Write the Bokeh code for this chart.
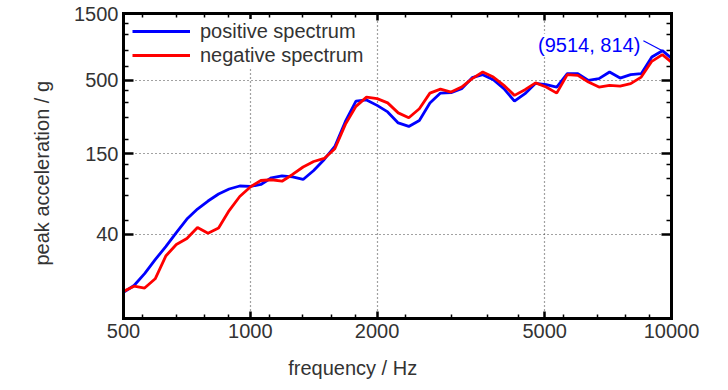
from bokeh.plotting import figure
from bokeh.models import (LogAxis, FixedTicker, PrintfTickFormatter, Legend,
                          LegendItem, Label, Range1d, Title)
from bokeh.embed import file_html
from bokeh.resources import INLINE

# 1/12-octave frequencies (Hz)
freq = [500.0, 529.7, 561.2, 594.6, 630.0, 667.4, 707.1, 749.2, 793.7, 840.9,
        890.9, 943.9, 1000.0, 1059.5, 1122.5, 1189.2, 1259.9, 1334.8, 1414.2,
        1498.3, 1587.4, 1681.8, 1781.8, 1887.7, 2000.0, 2118.9, 2244.9, 2378.4,
        2519.8, 2669.6, 2828.4, 2996.6, 3174.8, 3363.6, 3563.6, 3775.5, 4000.0,
        4237.9, 4489.8, 4756.8, 5039.7, 5339.3, 5656.9, 5993.2, 6349.6, 6727.2,
        7127.2, 7551.0, 8000.0, 8475.7, 8979.7, 9513.7, 10079.4]

positive = [15.4, 17.2, 20.9, 26.3, 32.6, 41.0, 51.2, 60.4, 68.9, 77.3,
            83.9, 88.2, 87.5, 90.4, 100.9, 104.3, 102.3, 98.2, 113.8,
            136.4, 168.8, 254.7, 355.6, 362.7, 331.6, 297.8, 248.5, 234.6,
            259.0, 344.2, 405.7, 408.3, 436.2, 522.7, 549.1, 505.8, 436.2,
            355.6, 401.8, 476.0, 465.9, 447.9, 558.3, 558.3, 500.0, 514.1,
            573.2, 519.3, 549.1, 558.3, 733.5, 814.0, 706.3]

negative = [15.6, 17.0, 16.5, 19.2, 27.9, 33.7, 37.2, 44.6, 40.6, 44.2,
            58.9, 74.2, 86.8, 96.5, 97.7, 95.4, 106.6, 120.5, 131.9,
            138.6, 162.6, 242.6, 326.1, 380.0, 370.2, 345.4, 293.1, 270.8,
            314.0, 405.7, 433.4, 412.4, 447.9, 514.1, 573.2, 527.9, 460.5,
            390.8, 429.1, 479.8, 447.9, 405.7, 549.1, 542.9, 486.3, 447.9,
            460.5, 455.3, 473.6, 527.9, 683.5, 763.1, 661.4]

x_major = [500, 1000, 2000, 5000, 10000]
x_minor = [556, 667, 778, 889, 1111, 1333, 1556, 1778,
           2333, 3000, 3667, 4333, 5556, 6667, 7778, 8889]
x_grid = [1000, 2000, 5000]
y_major = [40, 150, 500, 1500]
y_minor = [50, 75, 100, 125, 190, 270, 350, 425, 625, 820, 1060, 1270]
y_grid = [40, 150, 500]

x_title = "frequency / Hz"
x_title_at = 1750          # the x title sits off-centre, under ~1750 Hz
y_title = "peak acceleration / g"

FONT = "Liberation Sans"
FS = "20px"
TXT = "#333333"
BLUE = "#0000ff"
RED = "#ff0000"

p = figure(width=728, height=390, x_axis_type="log", y_axis_type="log",
           x_range=Range1d(500, 10000), y_range=Range1d(10, 1500),
           output_backend="svg", toolbar_location=None,
           min_border_left=123, min_border_right=57,
           min_border_top=13, min_border_bottom=72)
p.outline_line_color = None
p.background_fill_color = "white"
p.border_fill_color = "white"


def style_axis(ax, major_in, minor_in, labels=True):
    ax.axis_line_width = 3
    ax.axis_line_color = "black"
    ax.axis_line_cap = "square"
    ax.major_tick_in = major_in
    ax.major_tick_out = 0
    ax.minor_tick_in = minor_in
    ax.minor_tick_out = 0
    ax.major_tick_line_width = 2.5
    ax.minor_tick_line_width = 1.5
    ax.major_tick_line_color = "black"
    ax.minor_tick_line_color = "black"
    ax.major_label_text_font = FONT
    ax.major_label_text_color = TXT
    if labels:
        ax.major_label_text_font_size = FS
        ax.major_label_standoff = 5
    else:
        ax.major_label_text_font_size = "0px"
        ax.major_label_standoff = 0


xa = p.xaxis[0]
xa.ticker = FixedTicker(ticks=x_major, minor_ticks=x_minor)
xa.formatter = PrintfTickFormatter(format="%d")
style_axis(xa, 7, 4)

ya = p.yaxis[0]
ya.ticker = FixedTicker(ticks=y_major, minor_ticks=y_minor)
ya.formatter = PrintfTickFormatter(format="%d")
style_axis(ya, 10, 5)

top = LogAxis(ticker=FixedTicker(ticks=x_major, minor_ticks=x_minor),
              formatter=PrintfTickFormatter(format=" "))
style_axis(top, 7, 4, labels=False)
p.add_layout(top, "above")

right = LogAxis(ticker=FixedTicker(ticks=y_major, minor_ticks=y_minor),
                formatter=PrintfTickFormatter(format=" "))
style_axis(right, 10, 5, labels=False)
p.add_layout(right, "right")

# x title: an outer, line-less axis whose single label is the title
xt = LogAxis(ticker=FixedTicker(ticks=[x_title_at], minor_ticks=[]),
             major_label_overrides={x_title_at: x_title},
             axis_line_color=None, major_tick_line_color=None,
             minor_tick_line_color=None, major_tick_in=0, major_tick_out=0,
             minor_tick_in=0, minor_tick_out=0, major_label_standoff=16,
             major_label_text_font=FONT, major_label_text_font_size=FS,
             major_label_text_color=TXT)
p.add_layout(xt, "below")

# y title, placed off-centre as in the original
p.add_layout(Title(text=y_title, align="left", offset=53, standoff=38,
                   text_font=FONT, text_font_size=FS, text_font_style="normal",
                   text_color=TXT), "left")

p.xgrid.ticker = FixedTicker(ticks=x_grid)
p.ygrid.ticker = FixedTicker(ticks=y_grid)
for g in (p.xgrid[0], p.ygrid[0]):
    g.grid_line_color = "#444444"
    g.grid_line_dash = "1 3"
    g.grid_line_width = 1.2

rb = p.line(freq, positive, line_color=BLUE, line_width=2.8)
rr = p.line(freq, negative, line_color=RED, line_width=2.8)

legend = Legend(items=[LegendItem(label="positive spectrum", renderers=[rb]),
                       LegendItem(label="negative spectrum", renderers=[rr])],
                location=(9, 251), margin=0, padding=3, spacing=0,
                glyph_width=58, glyph_height=24, label_height=24,
                label_standoff=10, label_text_font=FONT,
                label_text_font_size=FS, label_text_color=TXT,
                label_text_baseline="middle",
                border_line_color=None, background_fill_color="white",
                background_fill_alpha=1.0)
p.add_layout(legend)

# annotate the peak of the positive spectrum
i_peak = max(range(len(positive)), key=lambda i: positive[i] if freq[i] <= 10000 else 0)
peak_f, peak_v = freq[i_peak], positive[i_peak]
p.line([peak_f * 2 ** (-19 / 127), peak_f], [peak_v * 10 ** (10 / 140), peak_v],
       line_color=BLUE, line_width=1.2)
p.add_layout(Label(x=peak_f, y=peak_v, x_offset=-22, y_offset=6,
                   text=f"({round(peak_f)}, {round(peak_v)})",
                   text_align="right", text_baseline="alphabetic",
                   text_color=BLUE, text_font=FONT, text_font_size=FS,
                   background_fill_color="white"))

open("out.html", "w").write(file_html(p, INLINE))
